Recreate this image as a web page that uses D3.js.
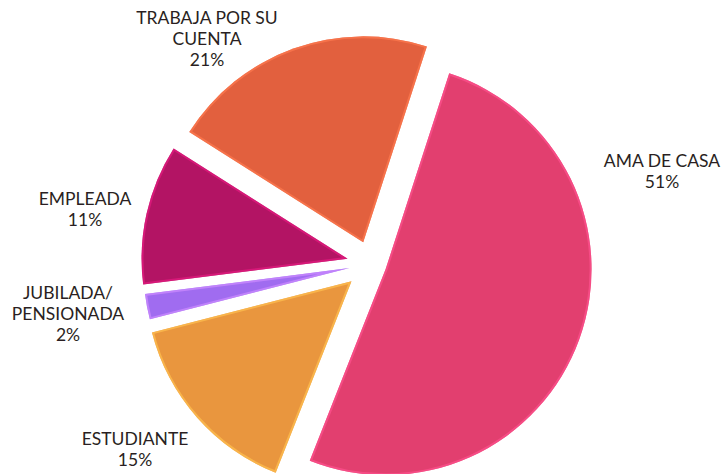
<!DOCTYPE html>
<html>
<head>
<meta charset="utf-8">
<script src="https://cdn.jsdelivr.net/npm/d3@7"></script>
<style>
  body { margin: 0; background: #fff; }
  text { font-family: Lato, "Open Sans", sans-serif; fill: #2a1f22; }
</style>
</head>
<body>
<div id="chart-area"></div>
<script>
// datos
var categorias = ["AMA DE CASA", "ESTUDIANTE", "JUBILADA/PENSIONADA", "EMPLEADA", "TRABAJA POR SU CUENTA"];
var valores = [51, 15, 2, 11, 21];
var etiquetas = [
    ["AMA DE CASA", "51%"],
    ["ESTUDIANTE", "15%"],
    ["JUBILADA/", "PENSIONADA", "2%"],
    ["EMPLEADA", "11%"],
    ["TRABAJA POR SU", "CUENTA", "21%"]
];
var colores = ["#e23f6f", "#e9963e", "#a06cf0", "#b31464", "#e2603e"];

// estilo / layout
var width = 725, height = 474;
var cx = 371, cy = 264, radio = 206;
var separacion = [15.5, 26, 22, 24, 23];
var posEtiqueta = [[662, 167], [135, 445], [68, 299], [85, 205], [207, 24]];
var interlinea = 21;

var svg = d3.select("#chart-area")
    .append("svg")
        .attr("width", width)
        .attr("height", height);

var pie = d3.pie()
    .sort(null)
    .startAngle(18 * Math.PI / 180)
    .endAngle(378 * Math.PI / 180)
    .value(d => d);

var arc = d3.arc()
    .innerRadius(0)
    .outerRadius(radio);

var arcos = pie(valores);

var g = svg.append("g")
    .attr("transform", "translate(" + cx + "," + cy + ")");

var rebanadas = g.selectAll("g.slice")
    .data(arcos)
    .join("g")
        .attr("class", "slice")
        .attr("transform", (d, i) => {
            var a = (d.startAngle + d.endAngle) / 2;
            return "translate(" + (Math.sin(a) * separacion[i]) + "," + (-Math.cos(a) * separacion[i]) + ")";
        });

var defs = svg.append("defs");
arcos.forEach((d, i) => {
    defs.append("clipPath").attr("id", "clip" + i)
        .append("path").attr("d", arc(d));
});

rebanadas.append("path")
    .attr("d", arc)
    .attr("fill", (d, i) => colores[i]);

// borde biselado
rebanadas.append("path")
    .attr("d", arc)
    .attr("fill", "none")
    .attr("clip-path", (d, i) => "url(#clip" + i + ")")
    .attr("stroke", (d, i) => d3.color(colores[i]).brighter(0.7))
    .attr("stroke-width", 4)
    .attr("stroke-opacity", 0.7);

// etiquetas
var labels = svg.selectAll("text.label")
    .data(etiquetas)
    .join("text")
        .attr("class", "label")
        .attr("text-anchor", "middle")
        .attr("font-size", 17.5)
        .attr("x", (d, i) => posEtiqueta[i][0])
        .attr("y", (d, i) => posEtiqueta[i][1]);

labels.selectAll("tspan")
    .data(d => d)
    .join("tspan")
        .attr("x", function () { return d3.select(this.parentNode).attr("x"); })
        .attr("dy", (d, j) => j === 0 ? 0 : interlinea)
        .text(d => d);
</script>
</body>
</html>
